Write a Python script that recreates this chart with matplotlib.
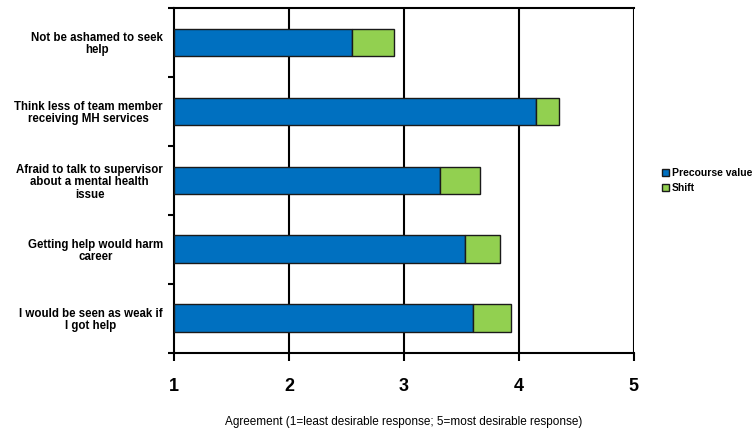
import matplotlib
matplotlib.use("Agg")
import matplotlib.pyplot as plt
import numpy as np

plt.rcParams['font.family'] = ['Liberation Sans', 'DejaVu Sans']

# ===== data =====
categories = [
    "Not be ashamed to seek\nhelp",
    "Think less of team member\nreceiving MH services",
    "Afraid to talk to supervisor\nabout a mental health\nissue",
    "Getting help would harm\ncareer",
    "I would be seen as weak if\nI got help",
]
precourse = [2.55, 4.15, 3.31, 3.53, 3.60]
shift = [0.36, 0.20, 0.35, 0.31, 0.33]
x_ticks = [1, 2, 3, 4, 5]

blue = "#0070C0"
green = "#92D050"

fig = plt.figure(figsize=(7.54, 4.33), dpi=100)
ax = fig.add_axes([0.2308, 0.1855, 0.6097, 0.796])

y = np.arange(len(categories))
base = 1
ax.barh(y, np.array(precourse) - base, left=base, height=0.4,
        color=blue, edgecolor="#1a1a1a", linewidth=1.0, label="Precourse value", zorder=3)
ax.barh(y, shift, left=precourse, height=0.4,
        color=green, edgecolor="#1a1a1a", linewidth=1.0, label="Shift", zorder=3)

ax.set_xlim(1, 5)
ax.set_ylim(len(categories) - 0.5, -0.5)

# vertical grid lines
for xv in x_ticks[1:]:
    ax.axvline(xv, color="black", linewidth=1.5, zorder=1)

ax.set_xticks(x_ticks)
ax.set_xticklabels([str(v) for v in x_ticks], fontsize=13, fontweight="bold")
ax.tick_params(axis="x", direction="out", length=6, width=1.5, pad=12)

# category labels at centers, ticks at boundaries
ax.set_yticks(y)
ax.set_yticklabels(categories, fontsize=8.3, fontweight="bold",
                   multialignment="center", linespacing=1.05)
ax.tick_params(axis="y", which="major", length=0, pad=8)
ax.set_yticks(np.arange(len(categories) + 1) - 0.5, minor=True)
ax.tick_params(axis="y", which="minor", direction="out", length=4, width=1.5)

for side in ["top", "left", "bottom"]:
    ax.spines[side].set_linewidth(1.5)
ax.spines["right"].set_visible(False)

ax.set_xlabel("Agreement (1=least desirable response; 5=most desirable response)",
              fontsize=8.5, labelpad=15)

fig.legend(loc="center left", bbox_to_anchor=(0.872, 0.583), frameon=False,
           prop={"size": 7.5, "weight": "bold"}, handlelength=0.7, handleheight=0.7,
           handletextpad=0.3, labelspacing=0.5, borderaxespad=0)

fig.savefig("out.png", dpi=100)
